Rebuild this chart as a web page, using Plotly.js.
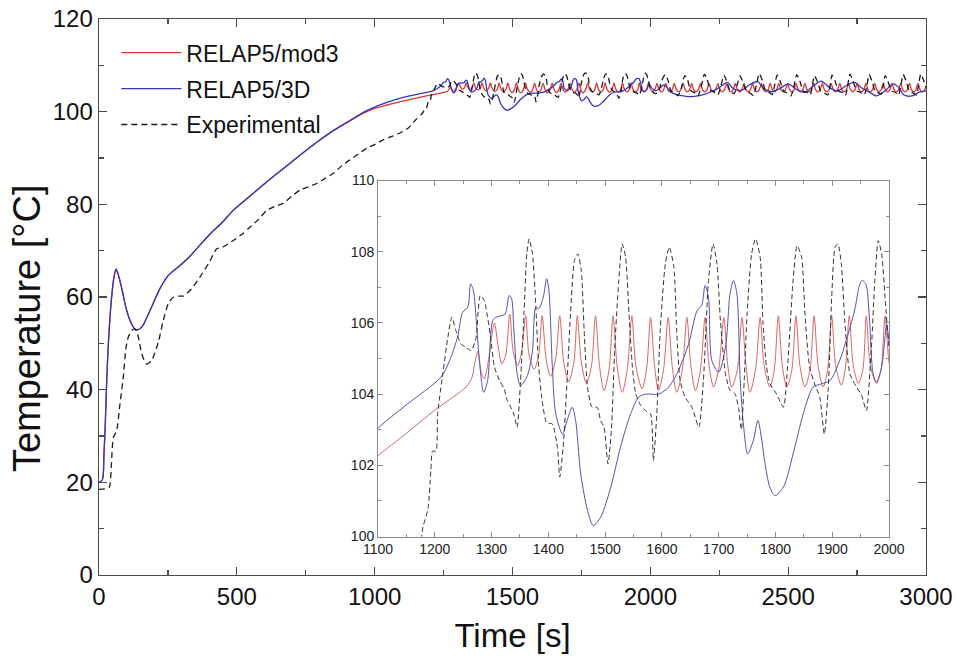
<!DOCTYPE html>
<html>
<head>
<meta charset="utf-8">
<script src="https://cdn.plot.ly/plotly-3.0.1.min.js"></script>
<style>html,body{margin:0;padding:0;background:#fff}#chart{width:956px;height:664px}</style>
</head>
<body>
<div id="chart"></div>
<script>
// Series names and axis titles
const seriesNames = ["RELAP5/mod3", "RELAP5/3D", "Experimental"];
const xTitle = "Time [s]";
const yTitle = "Temperature [°C]";

// RELAP5/mod3 : [time s, temperature °C]
const redPoints = [
[0,20],[12,20.5],[18,26],[23,33],[28,42],[35,51],[45,59.5],[55,64.5],[62,66],[70,64.8],[82,62],[100,57.2],[118,54.2],[134,52.9],[155,53.5],[185,57.1],[221,61.8],[251,64.6],[294,66.8],[330,68.8],[366,71.2],[403,73.6],[450,76.3],[487,78.7],[548,81.8],[608,84.8],[668,87.7],[729,90.6],[790,93.4],[850,95.9],[910,98.0],[960,99.7],[1000,100.7],[1050,101.5],[1097,102.23],[1150,102.9],[1200,103.55],[1255,104.2],
[1265,104.45],[1272,105.0],[1276,105.2],[1282,104.6],[1287,104.43],[1294,104.9],[1300,105.6],[1305,106.0],[1311,105.4],[1318,104.85],[1325,105.1],
[1332,106.25],[1338,105.2],[1346,104.8],[1353,105.2],[1360,106.2],[1366,105.1],[1375,104.7],[1383,105.1],[1389,106.2],[1396,105.0],[1404,104.5],[1413,105.0],[1420,106.2],[1427,104.9],[1436,104.35],[1445,104.9],[1451,106.2],[1458,104.9],[1467,104.3],[1476,104.8],[1483,106.2],[1490,104.8],[1498,104.1],[1507,104.7],[1514,106.2],[1521,104.8],[1530,104.05],[1539,104.7],[1547,106.2],[1554,104.8],[1565,104.15],[1573,104.7],[1580,106.15],[1587,104.8],[1594,104.1],[1603,104.7],[1611,106.15],[1618,104.8],[1626,104.05],[1636,104.7],[1644,106.15],[1651,104.8],[1659,104.1],[1668,104.7],[1676,106.15],[1683,104.8],[1691,104.2],[1700,104.7],[1709,106.15],[1716,104.8],[1723,104.2],[1733,104.7],[1741,106.15],[1748,104.8],[1755,104.05],[1765,104.7],[1773,106.15],[1780,104.8],[1790,104.2],[1798,104.7],[1805,106.2],[1812,104.8],[1820,104.2],[1829,104.7],[1836,106.2],[1843,104.8],[1852,104.2],[1861,104.7],[1868,106.2],[1875,104.8],[1884,104.2],[1892,104.7],[1899,106.2],[1906,104.8],[1916,104.25],[1923,104.7],[1930,106.2],[1937,104.8],[1946,104.3],[1954,104.7],[1960,106.2],[1967,104.8],[1978,104.3],[1986,104.7],[1993,106.2],
[2000,104.9],[2008,104.4],[2016,104.7],[2024,106.1],[2031,104.8],[2040,104.25],[2048,104.7],[2056,106.1],[2063,104.8],[2071,104.25],[2079,104.7],[2087,106.1],[2094,104.8],[2103,104.25],[2111,104.7],[2119,106.1],[2126,104.8],[2134,104.25],[2142,104.7],[2150,106.1],[2157,104.8],[2166,104.25],[2174,104.7],[2182,106.1],[2189,104.8],[2197,104.25],[2205,104.7],[2213,106.1],[2220,104.8],[2229,104.25],[2237,104.7],[2245,106.1],[2252,104.8],[2261,104.25],[2269,104.7],[2277,106.1],[2284,104.8],[2292,104.25],[2300,104.7],[2308,106.1],[2315,104.8],[2324,104.25],[2332,104.7],[2340,106.1],[2347,104.8],[2355,104.25],[2363,104.7],[2371,106.1],[2378,104.8],[2387,104.25],[2395,104.7],[2403,106.1],[2410,104.8],[2419,104.25],[2427,104.7],[2435,106.1],[2442,104.8],[2450,104.25],[2458,104.7],[2466,106.1],[2473,104.8],[2482,104.25],[2490,104.7],[2498,106.1],[2505,104.8],[2513,104.25],[2521,104.7],[2529,106.1],[2536,104.8],[2545,104.25],[2553,104.7],[2561,106.1],[2568,104.8],[2576,104.25],[2584,104.7],[2592,106.1],[2599,104.8],[2608,104.25],[2616,104.7],[2624,106.1],[2631,104.8],[2640,104.25],[2648,104.7],[2656,106.1],[2663,104.8],[2671,104.25],[2679,104.7],[2687,106.1],[2694,104.8],[2703,104.25],[2711,104.7],[2719,106.1],[2726,104.8],[2734,104.25],[2742,104.7],[2750,106.1],[2757,104.8],[2766,104.25],[2774,104.7],[2782,106.1],[2789,104.8],[2798,104.25],[2806,104.7],[2814,106.1],[2821,104.8],[2829,104.25],[2837,104.7],[2845,106.1],[2852,104.8],[2861,104.25],[2869,104.7],[2877,106.1],[2884,104.8],[2892,104.25],[2900,104.7],[2908,106.1],[2915,104.8],[2924,104.25],[2932,104.7],[2940,106.1],[2947,104.8],[2955,104.25],[2963,104.7],[2971,106.1],[2978,104.8],[2987,104.25],[2995,104.7],[3000,105.5]
];

// RELAP5/3D : [time s, temperature °C]
const bluePoints = [
[0,20],[12,20.5],[18,26],[23,33],[28,42],[35,51],[45,59.5],[55,64.5],[62,66],[70,64.8],[82,62],[100,57.2],[118,54.2],[134,52.9],[155,53.5],[185,57.1],[221,61.8],[251,64.6],[294,66.8],[330,68.8],[366,71.2],[403,73.6],[450,76.3],[487,78.7],[548,81.8],[608,84.8],[668,87.7],[729,90.6],[790,93.4],[850,95.9],[910,98.1],[960,99.9],[1000,101.0],[1050,102.1],[1097,103.0],[1150,103.7],[1211,104.48],
[1226,104.94],[1240,105.6],[1249,106.3],[1258,106.44],[1263,107.1],[1268,106.9],[1273,106.07],[1279,104.85],[1286,104.05],[1293,104.38],[1302,106.07],[1308,106.16],[1317,106.2],[1324,106.25],[1331,106.77],[1335,106.7],[1339,105.88],[1345,104.57],[1351,104.24],[1363,104.52],[1372,105.22],[1378,106.44],[1383,106.4],[1391,106.72],[1397,107.24],[1401,106.9],[1407,104.76],[1413,103.45],[1425,102.88],[1433,103.26],[1442,103.63],[1448,103.26],[1457,101.76],[1469,100.73],[1479,100.31],[1492,100.54],[1510,101.39],[1527,102.51],[1545,103.45],[1559,103.91],[1571,104.0],[1594,104.0],[1612,104.2],[1629,104.66],[1647,105.41],[1662,106.35],[1670,106.49],[1676,107.05],[1682,106.72],[1688,104.94],[1700,104.62],[1712,105.32],[1720,106.82],[1726,107.19],[1732,106.82],[1738,104.38],[1744,103.07],[1751,102.32],[1761,102.7],[1769,103.26],[1776,102.7],[1781,102.1],[1790,101.39],[1799,101.15],[1814,101.39],[1831,102.32],[1849,103.45],[1866,104.19],[1881,104.29],[1896,104.38],[1913,104.94],[1928,105.69],[1940,106.4],[1947,107.0],[1952,107.19],[1959,107.1],[1965,106.25],[1972,104.57],[1978,104.34],[1987,104.76],[1996,105.97],[2000,105.5],
[2020,104.5],[2050,105.8],[2075,104.2],[2100,103.6],[2130,103.3],[2160,103.3],[2190,103.6],[2220,104.3],[2250,105.2],[2280,106.3],[2300,105.0],[2330,104.6],[2360,105.8],[2390,106.5],[2410,105.0],[2440,104.3],[2470,105.0],[2500,106.0],[2530,104.8],[2560,104.2],[2590,105.5],[2620,106.6],[2650,105.2],[2680,104.5],[2710,105.6],[2740,106.3],[2770,105.0],[2800,104.0],[2820,103.4],[2850,104.4],[2880,106.0],[2900,105.3],[2920,103.6],[2950,103.4],[2975,104.2],[3000,104.5]
];

// Experimental : [time s, temperature °C]
const expPoints = [
[0,18.5],[20,18.6],[37,18.9],[45,24],[52,29.7],[64,31.1],[76,36.9],[88,42.7],[98,49.1],[106,51.3],[119,52.8],[131,53.1],[143,51.3],[155,47.7],[173,45.5],[191,46.3],[215,50.2],[233,54.9],[251,58.5],[270,60.0],[290,60.2],[306,60.2],[336,61.8],[366,64.3],[400,67.5],[427,70.4],[450,70.8],[487,72.2],[520,73.6],[548,75.1],[580,76.8],[608,78.7],[640,79.6],[668,80.2],[700,81.8],[729,83.1],[760,83.8],[790,84.5],[820,85.6],[850,86.7],[880,88.3],[910,89.6],[940,90.8],[971,92.1],[1000,92.9],[1031,93.9],[1060,94.6],[1092,95.4],[1122,96.5],[1150,98.3],[1168,99.3],[1176,99.9],[1179,100.26],[1188,100.78],[1193,101.85],[1196,102.4],[1202,102.4],[1205,103.45],[1214,104.57],[1223,105.6],[1230,106.16],[1237,105.79],[1246,105.41],[1255,105.32],[1264,105.22],[1273,105.6],[1276,106.25],[1280,106.77],[1287,106.63],[1293,106.16],[1299,105.5],[1305,104.76],[1314,104.38],[1322,104.15],[1328,103.8],[1334,103.63],[1340,103.4],[1345,103.07],[1351,104.38],[1357,106.25],[1362,107.94],[1366,108.36],[1372,107.94],[1378,106.44],[1383,104.76],[1389,103.82],[1397,103.2],[1407,103.16],[1416,102.5],[1420,101.67],[1426,102.5],[1433,104.38],[1439,106.25],[1446,107.75],[1452,107.94],[1458,107.47],[1463,105.79],[1469,104.19],[1477,103.63],[1486,103.63],[1492,103.26],[1498,103.07],[1505,102.04],[1511,102.98],[1517,105.32],[1524,107.19],[1530,108.22],[1536,107.85],[1542,106.25],[1548,104.76],[1554,104.0],[1562,103.7],[1571,103.54],[1580,103.45],[1585,102.13],[1591,103.45],[1597,105.79],[1606,107.66],[1613,108.13],[1621,107.57],[1626,105.79],[1632,104.38],[1641,103.91],[1653,103.63],[1665,103.07],[1673,104.38],[1682,107.19],[1690,108.22],[1697,107.66],[1703,106.07],[1712,104.57],[1720,104.1],[1729,104.0],[1735,103.6],[1740,103.0],[1745,104.4],[1750,106.25],[1758,107.94],[1765,108.36],[1773,107.85],[1778,106.0],[1784,104.8],[1790,104.3],[1802,104.0],[1814,103.63],[1822,104.94],[1831,107.19],[1838,108.17],[1846,107.85],[1852,106.25],[1860,104.76],[1869,104.29],[1878,103.91],[1886,102.88],[1893,104.19],[1899,106.72],[1905,108.13],[1910,108.22],[1916,107.66],[1922,106.07],[1931,104.57],[1943,104.19],[1951,104.0],[1960,103.54],[1969,105.32],[1975,107.19],[1981,108.31],[1987,107.94],[1993,106.72],[2000,105.3],
[2010,104.2],[2020,103.9],[2030,104.3],[2040,106.5],[2054,108.0],[2064,106.8],[2075,104.5],[2088,104.0],[2100,103.4],[2112,105.0],[2125,107.8],[2135,106.9],[2146,104.6],[2160,104.1],[2172,103.3],[2184,105.2],[2196,108.1],[2206,107.0],[2218,104.6],[2232,104.2],[2245,103.6],[2256,105.6],[2267,107.9],[2277,106.6],[2290,104.4],[2304,103.9],[2314,105.6],[2325,107.7],[2336,106.4],[2348,104.4],[2362,104.0],[2374,103.5],[2385,105.8],[2395,108.2],[2406,106.8],[2418,104.5],[2432,104.1],[2442,103.7],[2452,106.0],[2460,107.9],[2471,106.6],[2484,104.4],[2498,104.0],[2510,103.4],[2521,105.6],[2531,108.0],[2542,106.7],[2555,104.4],[2570,104.1],[2580,103.6],[2588,105.8],[2595,107.8],[2606,106.5],[2618,104.5],[2632,104.0],[2644,103.6],[2652,105.6],[2659,107.9],[2670,106.6],[2684,104.4],[2698,104.1],[2708,103.5],[2716,105.7],[2724,108.1],[2735,106.7],[2748,104.5],[2762,104.2],[2776,103.6],[2786,105.8],[2794,108.0],[2804,106.6],[2816,104.4],[2830,104.0],[2838,103.8],[2845,105.8],[2852,107.8],[2862,106.5],[2875,104.5],[2890,104.1],[2900,103.5],[2909,105.7],[2917,108.0],[2928,106.6],[2940,104.4],[2955,104.0],[2965,103.6],[2973,105.8],[2981,108.1],[2991,106.8],[3000,105.2]
];

const xs = p => p.map(d => d[0]);
const ys = p => p.map(d => d[1]);

const FONT = "Liberation Sans, Arial, sans-serif";
const RED = "#dc3434", BLUE = "#3535c4", BLK = "#1a1a1a";

const traces = [
  {x: xs(redPoints), y: ys(redPoints), name: seriesNames[0], type: "scatter", mode: "lines",
   line: {color: RED, width: 1.3, shape: "spline", smoothing: 0.8}, legendgroup: "a", xaxis: "x", yaxis: "y"},
  {x: xs(bluePoints), y: ys(bluePoints), name: seriesNames[1], type: "scatter", mode: "lines",
   line: {color: BLUE, width: 1.3, shape: "spline", smoothing: 0.8}, legendgroup: "b", xaxis: "x", yaxis: "y"},
  {x: xs(expPoints), y: ys(expPoints), name: seriesNames[2], type: "scatter", mode: "lines",
   line: {color: BLK, width: 1.3, dash: "6px,4px", shape: "spline", smoothing: 0.6}, legendgroup: "c", xaxis: "x", yaxis: "y"},
  {x: xs(redPoints), y: ys(redPoints), name: seriesNames[0], type: "scatter", mode: "lines", showlegend: false,
   line: {color: "#d86464", width: 1, shape: "spline", smoothing: 0.8}, xaxis: "x2", yaxis: "y2"},
  {x: xs(bluePoints), y: ys(bluePoints), name: seriesNames[1], type: "scatter", mode: "lines", showlegend: false,
   line: {color: "#5252b0", width: 1, shape: "spline", smoothing: 0.8}, xaxis: "x2", yaxis: "y2"},
  {x: xs(expPoints), y: ys(expPoints), name: seriesNames[2], type: "scatter", mode: "lines", showlegend: false,
   line: {color: "#333", width: 1, dash: "5px,3px", shape: "spline", smoothing: 0.6}, xaxis: "x2", yaxis: "y2"}
];

const mainAxis = {
  showline: true, linecolor: "#4a4a4a", linewidth: 1.4, mirror: "ticks",
  ticks: "inside", ticklen: 8, tickwidth: 1.2, tickcolor: "#4a4a4a",
  showgrid: false, zeroline: false,
  tickfont: {family: FONT, size: 24, color: "#111"}
};
const insetAxis = {
  showline: true, linecolor: "#8a8a8a", linewidth: 1, mirror: "ticks",
  ticks: "inside", ticklen: 5, tickwidth: 1, tickcolor: "#8a8a8a",
  showgrid: false, zeroline: false,
  tickfont: {family: FONT, size: 14, color: "#222"}
};

const layout = {
  width: 956, height: 664,
  margin: {l: 99, r: 30, t: 19, b: 89},
  paper_bgcolor: "#fff", plot_bgcolor: "#fff",
  font: {family: FONT, color: "#111"},
  showlegend: true,
  legend: {x: 0.021, y: 0.978, xanchor: "left", yanchor: "top", bgcolor: "rgba(0,0,0,0)",
           font: {family: FONT, size: 23, color: "#111"}, itemwidth: 60, tracegroupgap: 3, traceorder: "grouped"},
  xaxis: Object.assign({}, mainAxis, {
    range: [0, 3000], tick0: 0, dtick: 500, domain: [0, 1], anchor: "y",
    minor: {dtick: 250, ticks: "inside", ticklen: 5, tickcolor: "#4a4a4a", showgrid: false},
    title: {text: xTitle, font: {family: FONT, size: 33, color: "#111"}, standoff: 14}
  }),
  yaxis: Object.assign({}, mainAxis, {
    range: [0, 120], tick0: 0, dtick: 20, domain: [0, 1], anchor: "x",
    minor: {dtick: 10, ticks: "inside", ticklen: 5, tickcolor: "#4a4a4a", showgrid: false}
  }),
  xaxis2: Object.assign({}, insetAxis, {
    range: [1100, 2000], tick0: 1100, dtick: 100, domain: [0.3374, 0.9553], anchor: "y2",
    minor: {dtick: 50, ticks: "inside", ticklen: 3, tickcolor: "#8a8a8a", showgrid: false}
  }),
  yaxis2: Object.assign({}, insetAxis, {
    range: [100, 110], tick0: 100, dtick: 2, domain: [0.0692, 0.7095], anchor: "x2",
    minor: {dtick: 1, ticks: "inside", ticklen: 3, tickcolor: "#8a8a8a", showgrid: false}
  }),
  annotations: [
    {text: yTitle, xref: "paper", yref: "paper", x: -0.0871, y: 0.444, xanchor: "center", yanchor: "middle",
     textangle: -90, showarrow: false, font: {family: FONT, size: 38, color: "#111"}}
  ]
};

Plotly.newPlot("chart", traces, layout, {staticPlot: true, displayModeBar: false});
</script>
</body>
</html>
